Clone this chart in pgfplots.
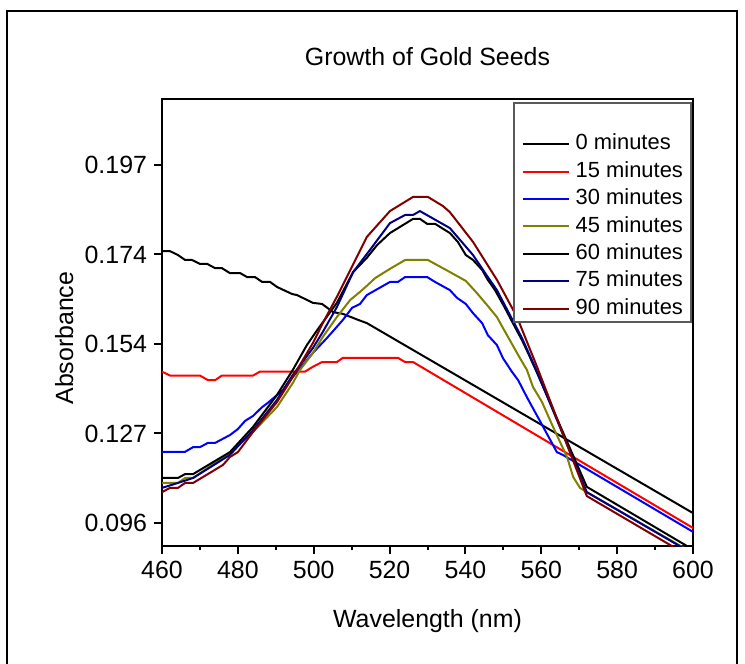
\documentclass[border=0pt]{standalone}
\usepackage{pgfplots}
\pgfplotsset{compat=1.18}
\usepackage{fontspec}
\setmainfont{Liberation Sans}
\definecolor{olivec}{RGB}{128,128,0}
\definecolor{navyc}{RGB}{0,0,128}
\definecolor{maroonc}{RGB}{128,0,0}
\begin{document}
\begin{tikzpicture}
\useasboundingbox (-81bp,-59bp) rectangle (291.5bp,273bp);
\draw[line width=1bp] (-77.5bp,-59bp) -- (-77.5bp,267.5bp) -- (287.5bp,267.5bp) -- (287.5bp,-59bp);
\begin{axis}[
 scale only axis, width=265.5bp, height=223.5bp,
 at={(0,0)}, anchor=south west,
 xmin=460, xmax=600, ymin=0.08951, ymax=0.21562,
 xtick={460,480,...,600}, minor x tick num=1,
 ytick={0.096,0.12125,0.1465,0.17175,0.197},
 yticklabels={0.096,0.127,0.154,0.174,0.197},
 scaled y ticks=false,
 tick align=outside, tick pos=left,
 major tick length=4bp, minor tick length=2bp,
 major tick style={line width=1bp, black},
 minor tick style={line width=1bp, black},
 axis line style={line width=1bp},
 ticklabel style={font=\fontsize{12.5}{15}\selectfont},
 /pgf/number format/assume math mode=true,
 title={Growth of Gold Seeds},
 title style={at={(axis description cs:0.5,1.0492)}, anchor=base, font=\fontsize{12.5}{15}\selectfont},
 xlabel={Wavelength (nm)},
 xlabel style={at={(axis description cs:0.5,-0.1834)}, anchor=base, font=\fontsize{12.5}{15}\selectfont},
 ylabel={Absorbance},
 ylabel style={at={(axis description cs:-0.1676,0.465)}, anchor=base, font=\fontsize{12.5}{15}\selectfont},
 no markers,
 every axis plot/.append style={line width=1bp},
 legend style={at={(axis description cs:0.998,0.993)}, anchor=north east,
   draw=gray!70!black, line width=1bp, fill=white,
   inner xsep=4bp, inner ysep=0pt, row sep=0pt, column sep=3bp,
   font=\fontsize{11}{13}\selectfont,
   nodes={inner sep=0pt, inner ysep=1.5bp, text height=8.2bp, text depth=2.5bp}},
 legend cell align=left,
 legend image code/.code={\draw[#1] (0bp,0bp) -- (23bp,0bp);},
]
\addlegendimage{empty legend}
\addlegendentry{}
\addplot[black] coordinates {
(460.0,0.1727) (462.1,0.1727) (464.2,0.1716) (466.1,0.1702) (467.9,0.1702)
(470.0,0.1691) (471.9,0.1691) (474.0,0.1679) (475.8,0.1679) (477.9,0.1665)
(480.6,0.1665) (482.4,0.1654) (484.5,0.1654) (486.4,0.1640) (488.5,0.1640)
(490.3,0.1626) (494.3,0.1606) (495.6,0.1603) (499.8,0.1581) (502.2,0.1578)
(505.1,0.1555) (507.7,0.1550) (511.7,0.1533) (514.0,0.1524) (600.0,0.0988)};
\addlegendentry{0 minutes}
\addplot[red] coordinates {
(460.0,0.1387) (462.1,0.1376) (470.0,0.1376) (472.1,0.1363) (474.0,0.1363)
(475.8,0.1376) (484.0,0.1376) (485.8,0.1387) (497.7,0.1387) (499.8,0.1401)
(502.2,0.1414) (506.1,0.1414) (507.7,0.1426) (522.2,0.1426) (524.1,0.1414)
(526.2,0.1414) (600.0,0.0946)};
\addlegendentry{15 minutes}
\addplot[blue] coordinates {
(460.0,0.1161) (466.1,0.1161) (468.2,0.1174) (470.0,0.1174) (472.1,0.1186)
(474.0,0.1186) (477.9,0.1208) (480.0,0.1225) (481.9,0.1248) (484.0,0.1262)
(486.4,0.1287) (487.9,0.1299) (491.9,0.1335) (493.7,0.1363) (495.6,0.1386)
(499.8,0.1440) (503.5,0.1482) (507.7,0.1533) (510.1,0.1567) (512.2,0.1578)
(514.0,0.1603) (520.1,0.1640) (522.2,0.1640) (524.1,0.1654) (529.9,0.1654)
(532.0,0.1640) (535.9,0.1617) (537.8,0.1595) (540.1,0.1578) (542.0,0.1552)
(544.4,0.1524) (545.9,0.1490) (548.3,0.1462) (549.9,0.1425) (552.3,0.1386)
(553.9,0.1363) (556.2,0.1315) (560.2,0.1237) (564.1,0.1160) (565.7,0.1152)
(600.0,0.0935)};
\addlegendentry{30 minutes}
\addplot[olivec] coordinates {
(460.0,0.1073) (464.2,0.1073) (466.1,0.1087) (468.2,0.1087) (477.9,0.1158)
(484.0,0.1217) (490.3,0.1287) (494.5,0.1355) (496.4,0.1392) (499.8,0.1440)
(502.4,0.1485) (506.1,0.1541) (509.6,0.1589) (512.2,0.1612) (514.0,0.1629)
(516.2,0.1651) (520.1,0.1677) (524.1,0.1702) (530.1,0.1702) (535.9,0.1668)
(540.1,0.1643) (543.0,0.1609) (545.7,0.1575) (548.3,0.1541) (549.9,0.1510)
(551.7,0.1476) (553.9,0.1434) (556.2,0.1392) (557.8,0.1344) (560.2,0.1301)
(563.1,0.1231) (566.8,0.1146) (568.4,0.1090) (570.2,0.1059) (572.0,0.1047)
(600.0,0.0875)};
\addlegendentry{45 minutes}
\addplot[black] coordinates {
(460.0,0.1087) (464.2,0.1087) (466.1,0.1098) (468.2,0.1098) (477.9,0.1160)
(484.0,0.1231) (490.3,0.1321) (494.5,0.1392) (498.2,0.1462) (500.9,0.1504)
(506.1,0.1581) (510.4,0.1668) (514.0,0.1708) (516.7,0.1744) (520.1,0.1778)
(526.2,0.1818) (528.0,0.1818) (529.9,0.1804) (532.0,0.1804) (535.9,0.1778)
(538.0,0.1753) (540.1,0.1716) (542.0,0.1702) (544.4,0.1674) (545.9,0.1646)
(547.8,0.1617) (550.4,0.1567) (552.5,0.1524) (554.9,0.1476) (556.5,0.1440)
(558.9,0.1383) (572.0,0.1062) (600.0,0.0885)};
\addlegendentry{60 minutes}
\addplot[navyc] coordinates {
(460.0,0.1059) (464.2,0.1073) (468.2,0.1087) (477.9,0.1152) (484.0,0.1222)
(490.3,0.1307) (494.5,0.1378) (499.8,0.1454) (502.4,0.1499) (506.1,0.1569)
(510.4,0.1668) (514.8,0.1730) (520.1,0.1806) (524.1,0.1829) (526.2,0.1829)
(528.0,0.1840) (535.9,0.1792) (542.0,0.1716) (545.9,0.1654) (548.3,0.1617)
(554.9,0.1482) (558.9,0.1386) (572.0,0.1047) (600.0,0.0873)};
\addlegendentry{75 minutes}
\addplot[maroonc] coordinates {
(460.0,0.1047) (462.1,0.1059) (464.2,0.1059) (466.1,0.1073) (468.2,0.1073)
(472.1,0.1098) (476.1,0.1124) (477.9,0.1146) (480.0,0.1160) (484.0,0.1217)
(490.3,0.1301) (494.5,0.1372) (499.8,0.1468) (502.4,0.1524) (506.1,0.1598)
(514.0,0.1767) (520.1,0.1840) (526.2,0.1880) (530.1,0.1880) (534.1,0.1854)
(535.9,0.1837) (542.0,0.1753) (548.3,0.1646) (553.6,0.1541) (558.9,0.1400)
(572.0,0.1036) (600.0,0.0860)};
\addlegendentry{90 minutes}
\end{axis}
\end{tikzpicture}
\end{document}
